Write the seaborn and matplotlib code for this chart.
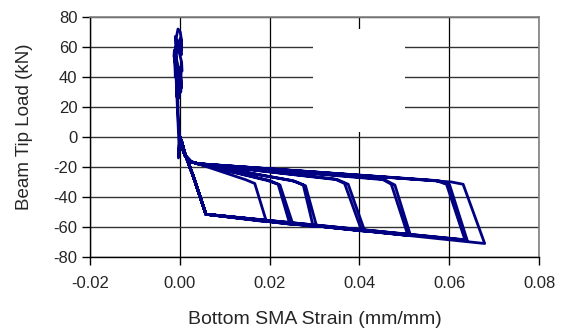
import numpy as np
import pandas as pd
import matplotlib
matplotlib.use('Agg')
import matplotlib.pyplot as plt
from matplotlib.patches import Rectangle
from matplotlib.ticker import FormatStrFormatter
import seaborn as sns

# elastic band near zero strain (positive load part of the test)
band_strain = [0.0000, -0.0003, -0.0002, -0.0004, -0.0006, -0.0008, -0.0011, -0.0008,
               -0.0004, 0.0001, 0.0004, 0.0004, -0.0008, -0.0010, 0.0004, 0.0005,
               -0.0009, -0.0013, -0.0012, 0.0003, 0.0004, -0.0008, -0.0010, 0.0002,
               0.0003, -0.0006, -0.0009, 0.0002, 0.0004, -0.0005, -0.0011, -0.0010,
               0.0003, 0.0002, -0.0006, -0.0007, 0.0001, -0.0002, -0.0005, -0.0004,
               -0.0003, 0.0000]
band_load = [0.0, -14.0, -4.0, 10.0, 24.0, 38.0, 52.0, 66.0,
             72.0, 70.0, 64.0, 58.0, 62.0, 67.0, 50.0, 44.0,
             48.0, 54.0, 58.0, 38.0, 33.0, 40.0, 46.0, 30.0,
             36.0, 42.0, 60.0, 66.0, 55.0, 63.0, 50.0, 40.0,
             45.0, 30.0, 34.0, 27.0, 35.0, 26.0, 30.0, 18.0,
             8.0, 0.0]

# loading branch leaving zero
start_strain = [0.0000, 0.0005, 0.0012, 0.0025, 0.0040]
start_load = [0.0, -7.0, -12.5, -16.5, -17.8]

# one entry per cycle: knee, peak and end of the drop
knee_strain = [0.0147, 0.0195, 0.0200, 0.0250, 0.0256, 0.0345, 0.0352, 0.0450, 0.0456, 0.0570, 0.0578, 0.0605]
knee_load = [-28.5, -29.0, -29.0, -29.0, -29.5, -28.0, -28.5, -28.0, -28.5, -29.0, -29.3, -30.0]
peak_strain = [0.0167, 0.0219, 0.0223, 0.0275, 0.0280, 0.0367, 0.0375, 0.0471, 0.0479, 0.0594, 0.0601, 0.0631]
peak_load = [-31.0, -31.5, -32.0, -32.0, -32.5, -31.0, -31.5, -31.5, -32.0, -31.5, -32.0, -31.5]
drop_strain = [0.0193, 0.0245, 0.0252, 0.0297, 0.0305, 0.0405, 0.0412, 0.0508, 0.0514, 0.0635, 0.0640, 0.0679]
drop_load = [-56.5, -58.0, -58.3, -59.5, -59.8, -62.5, -62.8, -65.5, -65.8, -68.5, -68.8, -71.0]

# unloading back along the lower branch to zero
return_strain = [0.0058, 0.0033, 0.0011, 0.0004, 0.0000]
return_load = [-51.5, -28.7, -10.7, -3.0, 0.0]

xs = list(band_strain)
ys = list(band_load)
for i in range(len(peak_strain)):
    xs += start_strain + [knee_strain[i], peak_strain[i], drop_strain[i]] + return_strain
    ys += start_load + [knee_load[i], peak_load[i], drop_load[i]] + return_load

df = pd.DataFrame({'strain': xs, 'load': ys})

sns.set_style('ticks')
plt.rcParams['font.family'] = ['Liberation Sans', 'DejaVu Sans']
plt.rcParams['axes.unicode_minus'] = False

fig = plt.figure(figsize=(5.63, 3.34), dpi=100)
ax = fig.add_axes([90 / 563, 1 - 257 / 334, 449 / 563, 240 / 334])

sns.lineplot(data=df, x='strain', y='load', sort=False, estimator=None,
             color='#000080', lw=2.0, ax=ax, zorder=3)

ax.set_xlim(-0.02, 0.08)
ax.set_ylim(-80, 80)
ax.set_xticks([-0.02, 0.00, 0.02, 0.04, 0.06, 0.08])
ax.set_yticks(range(-80, 81, 20))
ax.xaxis.set_major_formatter(FormatStrFormatter('%.2f'))

ax.grid(True, axis='x', color='black', lw=0.9)
ax.grid(True, axis='y', color='#333333', lw=1.0)
ax.set_axisbelow(True)

# blank box where the legend used to be
ax.add_patch(Rectangle((0.497, 0.522), 0.205, 0.428, transform=ax.transAxes,
                       facecolor='white', edgecolor='none', zorder=1))

for s in ['left', 'bottom']:
    ax.spines[s].set_color('black')
    ax.spines[s].set_linewidth(1.0)
for s in ['top', 'right']:
    ax.spines[s].set_visible(True)
    ax.spines[s].set_color('#808080')
    ax.spines[s].set_linewidth(1.2)

ax.tick_params(axis='both', direction='out', length=6, width=1, color='black',
               labelsize=12, bottom=True, left=True, top=False, right=False)
ax.tick_params(axis='x', pad=8)
ax.tick_params(axis='y', pad=3)

ax.set_xlabel('Bottom SMA Strain (mm/mm)', fontsize=14)
ax.set_ylabel('Beam Tip Load (kN)', fontsize=13.5)
ax.xaxis.set_label_coords(0.5, -0.225)
ax.yaxis.set_label_coords(-0.127, 0.542)

fig.savefig('out.png', dpi=100)
